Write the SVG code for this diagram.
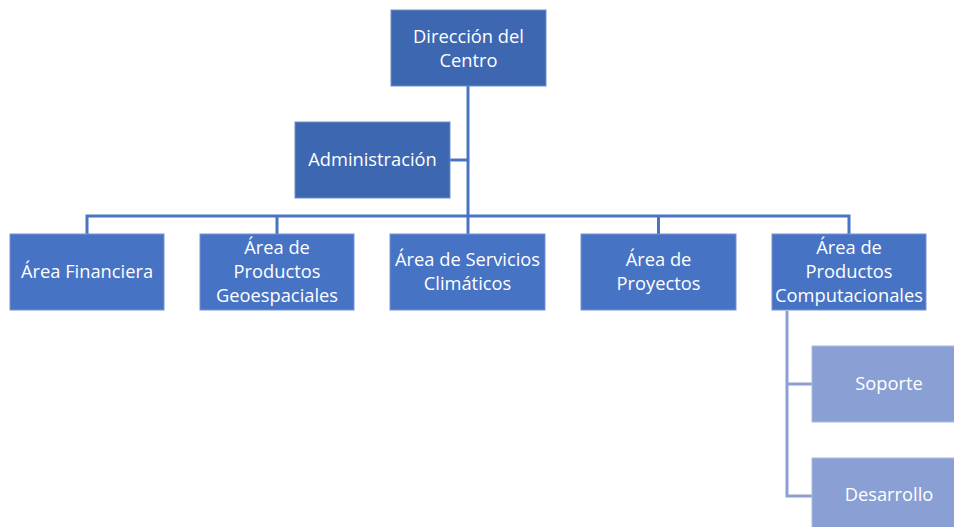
<svg xmlns="http://www.w3.org/2000/svg" width="954" height="527" viewBox="0 0 954 527">
<style>
.dark{fill:#3d67b1;stroke:#6f8fc6;stroke-width:1}
.mid{fill:#4673c4;stroke:#7894d0;stroke-width:1}
.light{fill:#8a9fd3;stroke:#a9b9e0;stroke-width:1}
.t{font-family:"Open Sans","Liberation Sans",sans-serif;font-size:18.3px;fill:#ffffff;text-anchor:middle}
.c{fill:none;stroke:#4874c3;stroke-width:3}
.cl{fill:none;stroke:#8b9fd3;stroke-width:3}
</style>
<rect width="954" height="527" fill="#ffffff"/>
<g id="connectors">
<path class="c" d="M468,86 V234"/>
<path class="c" d="M450,160 H468"/>
<path class="c" d="M87,234 V216 H849 V234"/>
<path class="c" d="M277,216 V234"/>
<path class="c" d="M658.5,216 V234"/>
<path class="cl" d="M787,311 V496 H812"/>
<path class="cl" d="M787,384 H812"/>
</g>
<g id="n-direccion">
<rect class="dark" x="391" y="10" width="155" height="76"/>
<text class="t" x="468.5" y="43">Dirección del</text>
<text class="t" x="468.5" y="67">Centro</text>
</g>
<g id="n-admin">
<rect class="dark" x="295" y="122" width="155" height="76"/>
<text class="t" x="372.5" y="166">Administración</text>
</g>
<g id="n-financiera">
<rect class="mid" x="10" y="234" width="154" height="76"/>
<text class="t" x="87" y="278">Área Financiera</text>
</g>
<g id="n-geo">
<rect class="mid" x="200" y="234" width="154" height="76"/>
<text class="t" x="277" y="254">Área de</text>
<text class="t" x="277" y="278">Productos</text>
<text class="t" x="277" y="302">Geoespaciales</text>
</g>
<g id="n-clim">
<rect class="mid" x="390" y="234" width="155" height="76"/>
<text class="t" x="467.5" y="266">Área de Servicios</text>
<text class="t" x="467.5" y="290">Climáticos</text>
</g>
<g id="n-proy">
<rect class="mid" x="581" y="234" width="155" height="76"/>
<text class="t" x="658.5" y="266">Área de</text>
<text class="t" x="658.5" y="290">Proyectos</text>
</g>
<g id="n-comp">
<rect class="mid" x="772" y="234" width="154" height="76"/>
<text class="t" x="849" y="254">Área de</text>
<text class="t" x="849" y="278">Productos</text>
<text class="t" x="849" y="302">Computacionales</text>
</g>
<g id="n-soporte">
<rect class="light" x="812" y="346" width="143" height="76"/>
<text class="t" x="889" y="390">Soporte</text>
</g>
<g id="n-desarrollo">
<rect class="light" x="812" y="458" width="143" height="76"/>
<text class="t" x="889" y="501">Desarrollo</text>
</g>
</svg>
